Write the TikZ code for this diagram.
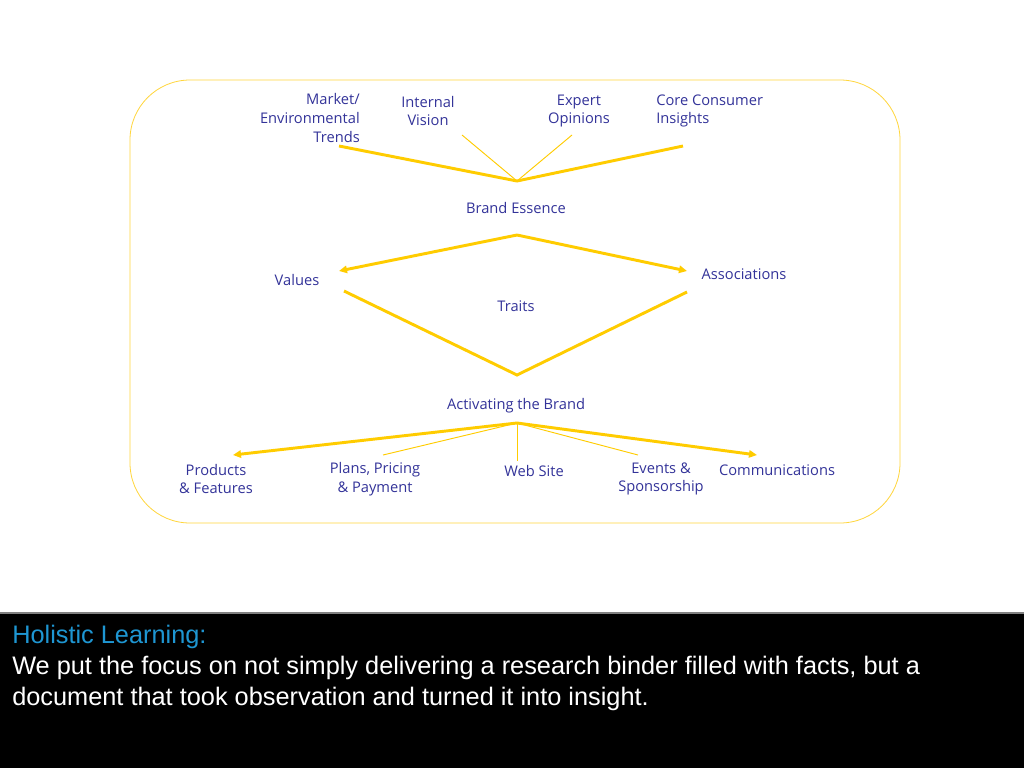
\documentclass[tikz,border=0pt]{standalone}
\usepackage{fontspec}
\setmainfont{Open Sans}
\newfontfamily\notefont{Liberation Sans}
\usetikzlibrary{arrows.meta,positioning}
\definecolor{navytext}{RGB}{51,51,153}
\definecolor{gold}{RGB}{255,204,0}
\definecolor{paleframe}{RGB}{255,214,60}
\definecolor{noteblue}{RGB}{30,150,210}

\begin{document}
\begin{tikzpicture}[x=0.75pt,y=-0.75pt,
    lbl/.style={text=navytext, font=\fontsize{11}{14}\selectfont, align=center, inner sep=0pt},
    boldline/.style={gold, line width=2.2pt},
    fineline/.style={gold, line width=0.7pt},
    goldarrow/.style={boldline, -{Triangle[length=6pt,width=5.5pt]}}]
  \useasboundingbox (0,0) rectangle (1024,768);
  \fill[white] (0,0) rectangle (1024,768);

  %% Frame round the diagram
  \draw[paleframe, line width=0.6pt, rounded corners=45pt] (130,80) rectangle (900,523);

  %% Inputs to the brand essence
  \node[lbl, anchor=east, align=right] (market) at (360,118) {Market/\\Environmental\\Trends};
  \node[lbl] (internal) at (428,111) {Internal\\Vision};
  \node[lbl] (expert) at (579,111) {Expert\\Opinions};
  \node[lbl, anchor=west, align=left] (core) at (656,111) {Core Consumer\\Insights};

  \coordinate (mktEnd) at (339,146);
  \coordinate (intEnd) at (462,135);
  \coordinate (expEnd) at (572,135);
  \coordinate (coreEnd) at (683,146);
  \coordinate (inApex) at (517,181);

  \draw[boldline] (mktEnd) -- (inApex) -- (coreEnd);
  \draw[fineline] (intEnd) -- (inApex);
  \draw[fineline] (expEnd) -- (inApex);

  %% Brand essence and its parts
  \node[lbl] (essence) at (516,208) {Brand Essence};
  \node[lbl] (values) at (297,280) {Values};
  \node[lbl] (assoc) at (744,274) {Associations};
  \node[lbl] (traits) at (516,306) {Traits};

  \coordinate (essApex) at (517,235);
  \coordinate (valTip) at (339,271);
  \coordinate (assTip) at (687,271);
  \draw[goldarrow] (essApex) -- (valTip);
  \draw[goldarrow] (essApex) -- (assTip);

  \coordinate (valStart) at (344,291);
  \coordinate (vBottom) at (517,375);
  \coordinate (assStart) at (687,292);
  \draw[boldline] (valStart) -- (vBottom) -- (assStart);

  %% Activating the brand
  \node[lbl] (activ) at (516,406) {Activating the Brand};
  \node[lbl] (products) at (216,479) {Products\\\& Features};
  \node[lbl] (plans) at (375,479) {Plans, Pricing\\\& Payment};
  \node[lbl] (web) at (534,471) {Web Site};
  \node[lbl] (events) at (661,479) {Events \&\\Sponsorship};
  \node[lbl] (comm) at (777,470) {Communications};

  \coordinate (actApex) at (517,423);
  \coordinate (prodTip) at (233,455);
  \coordinate (plansEnd) at (383,455);
  \coordinate (webEnd) at (517,461);
  \coordinate (eventsEnd) at (638,455);
  \coordinate (commTip) at (757,455);

  \draw[goldarrow] (actApex) -- (prodTip);
  \draw[goldarrow] (actApex) -- (commTip);
  \foreach \e in {plansEnd, webEnd, eventsEnd}{
    \draw[fineline] (actApex) -- (\e);
  }

  %% Note band at the foot
  \fill[black] (0,613) rectangle (1024,768);
  \draw[gray, line width=1.2pt] (0,613) -- (1024,613);
  \node[anchor=north west, align=left, inner sep=0pt, text=white,
        font=\notefont\fontsize{19}{23.25}\selectfont] (note) at (12,625)
    {\textcolor{noteblue}{Holistic Learning:}\\
     We put the focus on not simply delivering a research binder filled with facts, but a\\
     document that took observation and turned it into insight.};
\end{tikzpicture}
\end{document}
